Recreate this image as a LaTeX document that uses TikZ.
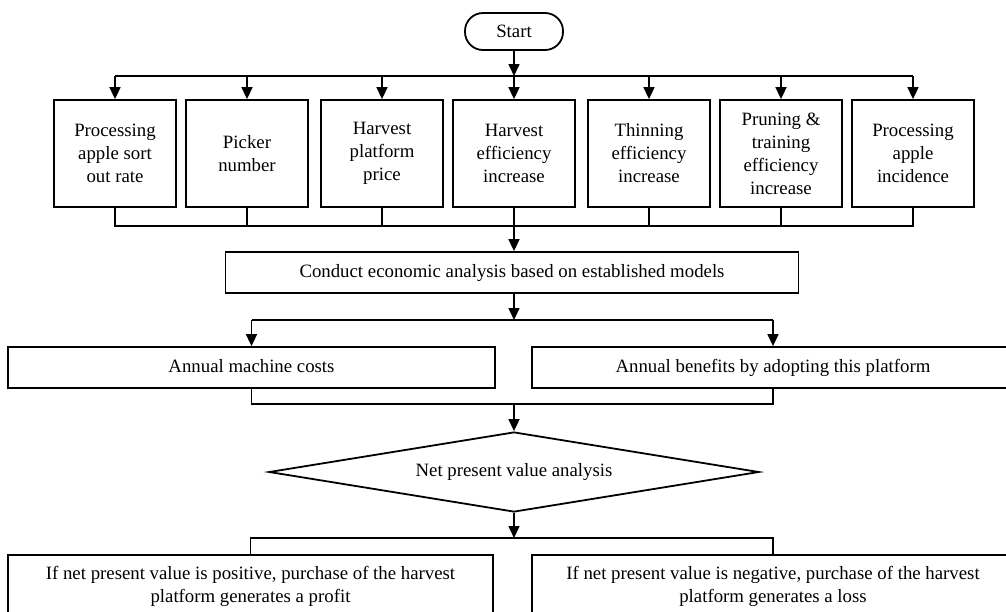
\documentclass[tikz,border=0pt]{standalone}
\usepackage{fontspec}
\setmainfont{Liberation Serif}
\usetikzlibrary{arrows.meta,shapes.geometric,calc}
\tikzset{
  flowbox/.style={draw, line width=1.8pt, align=center, inner sep=0pt,
    font=\fontsize{18.8}{23}\selectfont},
  parambox/.style={flowbox, minimum width=122pt, minimum height=107pt},
  widebox/.style={flowbox, minimum height=41pt, text height=13pt, text depth=4pt},
  flowline/.style={line width=1.6pt},
  flowarrow/.style={flowline, -{Triangle[length=12pt,width=11pt]}},
}

\begin{document}
\begin{tikzpicture}[x=1pt,y=-1pt]
  \useasboundingbox (0,0) rectangle (1006,611);
  \clip (0,0) rectangle (1006,611);

  % 1. Start
  \node[flowbox, rounded corners=18pt, minimum width=98pt, minimum height=37pt] (start) at (514,31.5) {Start};
  \coordinate (busIn) at (514,76);
  \coordinate (busOut) at (514,226);

  % 2. Input parameters
  \node[parambox] (sortout) at (115,153.5) {Processing\\apple sort\\out rate};
  \node[parambox] (picker) at (247,153.5) {Picker\\number};
  \node[parambox] (price) at (382,153.5) {Harvest\\platform\\price};
  \node[parambox] (harvest) at (514,153.5) {Harvest\\efficiency\\increase};
  \node[parambox] (thinning) at (649,153.5) {Thinning\\efficiency\\increase};
  \node[parambox] (pruning) at (781,153.5) {Pruning \&\\training\\efficiency\\increase};
  \node[parambox] (incidence) at (913,153.5) {Processing\\apple\\incidence};

  \draw[flowarrow] (start) -- (busIn);
  \draw[flowline] (sortout.north |- busIn) -- (incidence.north |- busIn);
  \draw[flowarrow] (sortout.north |- busIn) -- (sortout.north);
  \draw[flowarrow] (picker.north |- busIn) -- (picker.north);
  \draw[flowarrow] (price.north |- busIn) -- (price.north);
  \draw[flowarrow] (harvest.north |- busIn) -- (harvest.north);
  \draw[flowarrow] (thinning.north |- busIn) -- (thinning.north);
  \draw[flowarrow] (pruning.north |- busIn) -- (pruning.north);
  \draw[flowarrow] (incidence.north |- busIn) -- (incidence.north);

  \draw[flowline] (sortout.south) -- (sortout.south |- busOut) -- (incidence.south |- busOut) -- (incidence.south);
  \draw[flowline] (picker.south) -- (picker.south |- busOut);
  \draw[flowline] (price.south) -- (price.south |- busOut);
  \draw[flowline] (harvest.south) -- (busOut);
  \draw[flowline] (thinning.south) -- (thinning.south |- busOut);
  \draw[flowline] (pruning.south) -- (pruning.south |- busOut);

  % 3. Economic analysis
  \node[widebox, minimum width=573pt] (conduct) at (512,272.5) {Conduct economic analysis based on established models};
  \draw[flowarrow] (busOut) -- (busOut |- conduct.north);
  \coordinate (busSplit) at (514,320);
  \draw[flowarrow] (busSplit |- conduct.south) -- (busSplit);

  % 4. Costs and benefits
  \node[widebox, minimum width=487pt] (costs) at (251.5,367.5) {Annual machine costs};
  \node[widebox, minimum width=482pt] (benefits) at (773,367.5) {Annual benefits by adopting this platform};
  \draw[flowline] (costs.north |- busSplit) -- (benefits.north |- busSplit);
  \draw[flowarrow] (costs.north |- busSplit) -- (costs.north);
  \draw[flowarrow] (benefits.north |- busSplit) -- (benefits.north);
  \coordinate (busJoin) at (514,404);
  \draw[flowline] (costs.south) -- (costs.south |- busJoin) -- (benefits.south |- busJoin) -- (benefits.south);

  % 5. Net present value
  \node[flowbox, diamond, aspect=6.125, minimum width=490pt, minimum height=80pt] (npv) at (514,472) {Net present value analysis};
  \draw[flowarrow] (busJoin) -- (npv.north);
  \coordinate (busResult) at (514,538);
  \draw[flowarrow] (npv.south) -- (busResult);

  % 6. Outcomes
  \node[flowbox, minimum width=485pt, minimum height=62pt] (profit) at (250.5,586) {If net present value is positive, purchase of the harvest\\platform generates a profit};
  \node[flowbox, minimum width=482pt, minimum height=62pt] (loss) at (773,586) {If net present value is negative, purchase of the harvest\\platform generates a loss};
  \draw[flowline] (profit.north) -- (profit.north |- busResult) -- (loss.north |- busResult) -- (loss.north);
\end{tikzpicture}
\end{document}
